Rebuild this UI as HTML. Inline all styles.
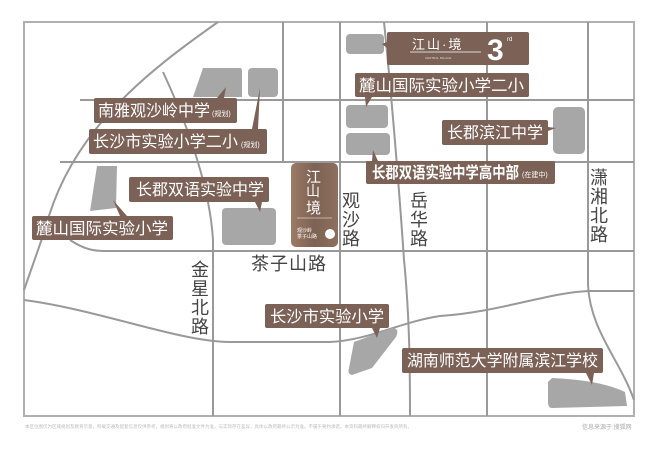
<!DOCTYPE html>
<html><head><meta charset="utf-8"><style>
html,body{margin:0;padding:0;background:#fff;}
svg{display:block}
.l{fill:#7b6156}
.t{fill:#fff;font-family:"Liberation Sans","Noto Sans CJK SC",sans-serif;font-size:16px}
.s{fill:#fff;font-family:"Liberation Sans","Noto Sans CJK SC",sans-serif;font-size:7px}
.r{fill:#444;font-family:"Liberation Sans","Noto Sans CJK SC",sans-serif;font-size:18px}
.g{fill:#a7a7a7}
.rd{stroke:#999;stroke-width:2;fill:none}
</style></head><body>
<svg width="660" height="461" viewBox="0 0 660 461" xmlns="http://www.w3.org/2000/svg">
<rect width="660" height="461" fill="#fff"/>
<g class="rd">
<rect x="24" y="22" width="610" height="394" stroke="#b0b0b0"/>
<path d="M218 22 C150 70 70 130 45 230 L24 290"/>
<path d="M163 72 C190 130 210 190 213 240 L213 416"/>
<path d="M80 100 L634 100"/>
<path d="M60 162 L634 162"/>
<path d="M70 240 C85 250 95 251 105 251 L634 251"/>
<path d="M24 300 C100 310 180 342 230 342 L330 342 C370 340 400 322 440 316 C500 312 550 292 590 291 L634 291"/>
<path d="M283 22 L283 162"/>
<path d="M340 22 L340 416"/>
<path d="M384 22 C392 100 400 200 404 260 C410 320 410 380 410 416"/>
<path d="M487 22 L487 416"/>
<path d="M588 22 L588 285 C590 330 620 360 634 400"/>
</g>
<g class="g">
<rect x="346" y="34" width="38" height="20" rx="4"/>
<path d="M203 68 L240 68 Q242 68 242 71 L242 97 L193 97 Z"/>
<rect x="248" y="68" width="30" height="29" rx="4"/>
<rect x="346" y="105" width="42" height="23" rx="4"/>
<rect x="346" y="133" width="44" height="22" rx="4"/>
<rect x="553" y="107" width="32" height="47" rx="5"/>
<path d="M97 166 L117 166 L116 208 L90 211 Z"/>
<rect x="222" y="208" width="54" height="37" rx="4"/>
<path d="M354 342 L392 328 Q400 328 396 337 L372 368 L352 375 Q347 374 349 368 Z"/>
<path d="M552 378 Q600 380 625 392 L627 406 L552 408 Q548 408 548 402 L548 382 Z"/>
</g>
<g class="l">
<rect x="387" y="32" width="142" height="33" rx="2"/><path d="M382 44 L387 42 L387 48 Z"/>
<rect x="355" y="73" width="174" height="24" rx="2"/><path d="M365 97 L372 97 L366 107 Z"/>
<rect x="442" y="120" width="106" height="25" rx="2"/><path d="M548 127 L556 128 L548 131 Z"/>
<rect x="366" y="161" width="189" height="23" rx="2"/><path d="M372 161 L378 161 L373 150 Z"/>
<rect x="94" y="98" width="143" height="25" rx="2"/><path d="M217 98 L224 98 L226 87 Z"/>
<rect x="89" y="129" width="178" height="25" rx="2"/><path d="M252 129 L258 129 L260 88 Z"/>
<rect x="129" y="177" width="140" height="25" rx="2"/><path d="M255 202 L262 202 L260 212 Z"/>
<rect x="32" y="216" width="141" height="24" rx="2"/><path d="M120 216 L127 216 L113 200 Z"/>
<rect x="265" y="304" width="124" height="24" rx="2"/><path d="M372 328 L380 328 L377 338 Z"/>
<rect x="402" y="348" width="201" height="25" rx="2"/><path d="M586 373 L594 373 L592 385 Z"/>
</g>
<g class="t">
<text x="98" y="116" textLength="112" lengthAdjust="spacingAndGlyphs">南雅观沙岭中学</text><text class="s" x="212" y="116">(规划)</text>
<text x="93" y="147" textLength="145" lengthAdjust="spacingAndGlyphs">长沙市实验小学二小</text><text class="s" x="241" y="147">(规划)</text>
<text x="136" y="195" textLength="128" lengthAdjust="spacingAndGlyphs">长郡双语实验中学</text>
<text x="36" y="234" textLength="132" lengthAdjust="spacingAndGlyphs">麓山国际实验小学</text>
<text x="359" y="91" textLength="165" lengthAdjust="spacingAndGlyphs">麓山国际实验小学二小</text>
<text x="447" y="138" textLength="96" lengthAdjust="spacingAndGlyphs">长郡滨江中学</text>
<text x="372" y="178" font-weight="bold" textLength="147" lengthAdjust="spacingAndGlyphs">长郡双语实验中学高中部</text><text class="s" x="522" y="177">(在建中)</text>
<text x="270" y="322" textLength="114" lengthAdjust="spacingAndGlyphs">长沙市实验小学</text>
<text x="407" y="366" textLength="191" lengthAdjust="spacingAndGlyphs">湖南师范大学附属滨江学校</text>
</g>
<text x="412" y="49" fill="#fff" font-family="Liberation Sans,Noto Sans CJK SC,sans-serif" font-size="13" letter-spacing="2">江山·境</text>
<line x1="410" y1="52" x2="481" y2="52" stroke="#fff" stroke-width="0.8"/>
<text x="425" y="59" fill="#ddd" font-size="3" font-family="Liberation Sans,sans-serif">CENTRAL PALACE</text>
<text x="487" y="60" fill="#fff" font-family="Liberation Sans,sans-serif" font-size="30" font-weight="bold">3</text>
<text x="507" y="41" fill="#fff" font-family="Liberation Sans,sans-serif" font-size="6">rd</text>
<defs><linearGradient id="pg" x1="0" y1="0" x2="1" y2="0"><stop offset="0" stop-color="#9c7b66"/><stop offset="0.5" stop-color="#7d6152"/><stop offset="1" stop-color="#8d705f"/></linearGradient></defs>
<rect x="291" y="163" width="47" height="84" rx="5" fill="url(#pg)"/>
<g fill="#fff" font-family="Liberation Sans,Noto Sans CJK SC,sans-serif">
<text x="306" y="182" font-size="15">江</text>
<text x="306" y="196" font-size="14">山</text>
<text x="306" y="213" font-size="15">境</text>
<line x1="297" y1="218" x2="332" y2="218" stroke="#fff" stroke-width="0.6"/>
<text x="297" y="232" font-size="5">观沙岭</text>
<text x="297" y="238" font-size="5">茶子山路</text>
<circle cx="330" cy="234" r="5"/>
</g>
<g class="r">
<text x="342" y="207">观</text><text x="342" y="226">沙</text><text x="342" y="245">路</text>
<text x="410" y="207">岳</text><text x="410" y="226">华</text><text x="410" y="245">路</text>
<text x="590" y="184">潇</text><text x="590" y="203">湘</text><text x="590" y="222">北</text><text x="590" y="241">路</text>
<text x="191" y="276">金</text><text x="191" y="295">星</text><text x="191" y="314">北</text><text x="191" y="333">路</text>
<text x="251" y="270" letter-spacing="1">茶子山路</text>
</g>
<text x="25" y="428" fill="#bbb" font-size="4.5" font-family="Liberation Sans,Noto Sans CJK SC,sans-serif">本区位图仅为区域规划及教育示意，所载交通及配套信息仅供参考，规划将以政府批准文件为准，与实际存在差异，具体以政府最终公示为准。不属于要约承诺。本资料最终解释权归开发商所有。</text>
<text x="582" y="429" fill="#aaa" font-size="6" font-family="Liberation Sans,Noto Sans CJK SC,sans-serif">信息来源于:搜狐网</text>
</svg>
</body></html>
